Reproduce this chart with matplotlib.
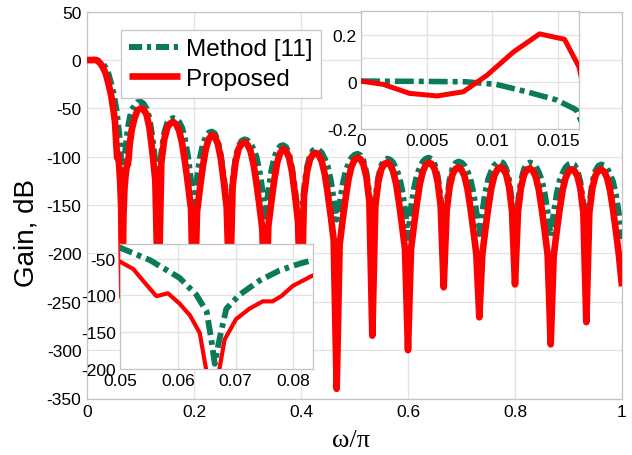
import matplotlib
matplotlib.use('Agg')
import matplotlib.pyplot as plt
from matplotlib.ticker import FixedLocator

plt.rcParams['font.family'] = ['Liberation Sans', 'DejaVu Sans']
plt.rcParams['axes.unicode_minus'] = False

# ---------------- data ----------------
# low-frequency part (passband + transition), sampled as in the insets
freq_lo_red = [0, 0.0017, 0.0037, 0.0058, 0.0078, 0.0096, 0.0116, 0.0136, 0.0155, 0.0166,
               0.02, 0.025, 0.03, 0.035, 0.04, 0.045, 0.05,
               0.0523, 0.054, 0.0563, 0.0583, 0.0603, 0.0621, 0.0638, 0.065, 0.0662,
               0.0681, 0.0701, 0.0724, 0.0747, 0.0764, 0.0779, 0.0799, 0.0833]
gain_lo_red = [0.003, -0.011, -0.049, -0.06, -0.042, 0.028, 0.126, 0.203, 0.18, 0.063,
               -0.8, -3.5, -8, -14, -24, -36, -54,
               -64, -80, -101, -97, -111, -127, -151, -205, -245,
               -160, -132, -118, -108, -108, -101, -87, -73]

freq_lo_green = [0, 0.004, 0.008, 0.0103, 0.0126, 0.0149, 0.0164,
                 0.02, 0.025, 0.03, 0.035, 0.04, 0.045, 0.05,
                 0.0552, 0.0603, 0.0632, 0.065, 0.0658, 0.0664, 0.0672, 0.0684, 0.0707,
                 0.0741, 0.0776, 0.081, 0.0833]
gain_lo_green = [0.003, 0.002, 0, -0.011, -0.042, -0.077, -0.119,
                 -0.6, -1.5, -4, -8, -14, -24, -35,
                 -52, -76, -99, -122, -160, -193, -160, -118, -99,
                 -80, -66, -57, -52]

# stopband part (one row per lobe: null, then the lobe)
freq_hi = [
    0.08889, 0.09444, 0.10000, 0.10556, 0.11111, 0.11667, 0.12222, 0.12778,
    0.13333, 0.13889, 0.14444, 0.15000, 0.15556, 0.16111, 0.16667, 0.17222, 0.17778, 0.18333, 0.18889, 0.19444,
    0.20000, 0.20556, 0.21111, 0.21667, 0.22222, 0.22778, 0.23333, 0.23889, 0.24444, 0.25000, 0.25556, 0.26111,
    0.26667, 0.27222, 0.27778, 0.28333, 0.28889, 0.29444, 0.30000, 0.30556, 0.31111, 0.31667, 0.32222, 0.32778,
    0.33333, 0.33889, 0.34444, 0.35000, 0.35556, 0.36111, 0.36667, 0.37222, 0.37778, 0.38333, 0.38889, 0.39444,
    0.40000, 0.40556, 0.41111, 0.41667, 0.42222, 0.42778, 0.43333, 0.43889, 0.44444, 0.45000, 0.45556, 0.46111,
    0.46667, 0.47222, 0.47778, 0.48333, 0.48889, 0.49444, 0.50000, 0.50556, 0.51111, 0.51667, 0.52222, 0.52778,
    0.53333, 0.53889, 0.54444, 0.55000, 0.55556, 0.56111, 0.56667, 0.57222, 0.57778, 0.58333, 0.58889, 0.59444,
    0.60000, 0.60556, 0.61111, 0.61667, 0.62222, 0.62778, 0.63333, 0.63889, 0.64444, 0.65000, 0.65556, 0.66111,
    0.66667, 0.67222, 0.67778, 0.68333, 0.68889, 0.69444, 0.70000, 0.70556, 0.71111, 0.71667, 0.72222, 0.72778,
    0.73333, 0.73889, 0.74444, 0.75000, 0.75556, 0.76111, 0.76667, 0.77222, 0.77778, 0.78333, 0.78889, 0.79444,
    0.80000, 0.80556, 0.81111, 0.81667, 0.82222, 0.82778, 0.83333, 0.83889, 0.84444, 0.85000, 0.85556, 0.86111,
    0.86667, 0.87222, 0.87778, 0.88333, 0.88889, 0.89444, 0.90000, 0.90556, 0.91111, 0.91667, 0.92222, 0.92778,
    0.93333, 0.93889, 0.94444, 0.95000, 0.95556, 0.96111, 0.96667, 0.97222, 0.97778, 0.98333, 0.98889, 0.99444,
    1.00000]

gain_hi_red = [
    -60, -52, -50, -51, -56, -70, -95, -125,
    -260, -106, -82, -70, -65.5, -64, -66.5, -73, -86, -106, -129, -154,
    -280, -157.5, -132.5, -109.5, -91.5, -81.5, -77.5, -79.5, -86.5, -101.5, -125.5, -152.5,
    -250, -130, -105, -92, -86.5, -85, -87.5, -94, -107, -127, -150, -175,
    -290, -172, -147, -124, -106, -96, -92, -94, -101, -116, -140, -167,
    -270, -141, -116, -103, -97.5, -96, -98.5, -105, -118, -138, -161, -186,
    -340, -191, -166, -143, -123, -110, -103.5, -101, -102.5, -108, -121, -146,
    -285, -151, -126, -113, -107.5, -106, -108.5, -115, -128, -148, -171, -196,
    -300, -196, -171, -148, -128, -115, -108.5, -106, -107.5, -113, -126, -151,
    -235, -156, -131, -118, -112.5, -111, -113.5, -120, -133, -153, -176, -201,
    -266, -201, -176, -153, -133, -120, -113.5, -111, -112.5, -118, -131, -156,
    -232, -157, -132, -119, -113.5, -112, -114.5, -121, -134, -154, -177, -202,
    -294, -203, -178, -155, -135, -122, -115.5, -113, -114.5, -120, -133, -158,
    -271, -158, -133, -120, -114.5, -113, -115.5, -122, -135, -155, -178, -203,
    -234]

gain_hi_green = [
    -47, -43.5, -43, -45, -50, -60, -80, -105,
    -140, -96, -75, -65, -61, -60, -61, -64, -70, -82, -100, -125,
    -151, -122, -101, -87, -79, -75, -74, -76, -83, -98, -120, -146,
    -160, -124, -101, -89, -83.5, -82, -83, -86, -92, -100, -114, -134,
    -162, -136, -115, -101, -93, -89, -88, -90, -97, -112, -134, -160,
    -165, -134, -111, -99, -93.5, -92, -93, -96, -102, -110, -124, -144,
    -165, -149, -129, -115, -107, -101, -98, -97, -98.5, -104, -116, -139,
    -175, -144, -121, -109, -103.5, -102, -103, -106, -112, -120, -134, -154,
    -184, -153, -133, -119, -111, -105, -102, -101, -102.5, -108, -120, -143,
    -180, -147, -124, -112, -106.5, -105, -106, -109, -115, -123, -137, -157,
    -180, -157, -137, -123, -115, -109, -106, -105, -106.5, -112, -124, -147,
    -182, -148, -125, -113, -107.5, -106, -107, -110, -116, -124, -138, -158,
    -182, -159, -139, -125, -117, -111, -108, -107, -108.5, -114, -126, -149,
    -185, -150, -127, -115, -109.5, -108, -109, -112, -118, -126, -140, -160,
    -185]

labels = ['Method [11]', 'Proposed']

main_xticks = [0, 0.2, 0.4, 0.6, 0.8, 1]
main_xticklabels = ['0', '0.2', '0.4', '0.6', '0.8', '1']
main_yticks = [-350, -300, -250, -200, -150, -100, -50, 0, 50]
main_yticklabels = ['-350', '-300', '-250', '-200', '-150', '-100', '-50', '0', '50']

in1_xticks = [0, 0.005, 0.01, 0.015]
in1_xticklabels = ['0', '0.005', '0.01', '0.015']
in1_yticks = [-0.2, 0, 0.2]
in1_yticklabels = ['-0.2', '0', '0.2']
in1_yminor = [-0.1, 0.1]

in2_xticks = [0.05, 0.06, 0.07, 0.08]
in2_xticklabels = ['0.05', '0.06', '0.07', '0.08']
in2_yticks = [-200, -150, -100, -50]
in2_yticklabels = ['-200', '-150', '-100', '-50']

# ---------------- drawing ----------------
GREEN = '#0a7a5a'
RED = '#ff0000'
GRID = '#e2e2e2'
SPINE = '#c4c4c4'
TICKFS = 12.5

freq_red = freq_lo_red + freq_hi
gain_red = gain_lo_red + gain_hi_red
freq_green = freq_lo_green + freq_hi
gain_green = gain_lo_green + gain_hi_green

W, H = 632, 456
fig = plt.figure(figsize=(W / 100, H / 100), dpi=100)


def px_axes(left, top, right, bottom):
    return fig.add_axes([left / W, 1 - bottom / H, (right - left) / W, (bottom - top) / H])


def style(a):
    for s in a.spines.values():
        s.set_color(SPINE)
        s.set_linewidth(0.9)
    a.grid(True, which='both', color=GRID, linewidth=0.9)
    a.set_axisbelow(True)
    a.tick_params(which='both', length=0, labelsize=TICKFS, pad=4, colors='black')
    a.set_facecolor('white')


ax = px_axes(87, 12.7, 622, 399.5)
style(ax)
ax.plot(freq_green, gain_green, color=GREEN, lw=4.3, dashes=(2.2, 0.8, 0.7, 0.8),
        dash_capstyle='butt', label=labels[0], zorder=3)
ax.plot(freq_red, gain_red, color=RED, lw=4.8, solid_joinstyle='round',
        solid_capstyle='butt', label=labels[1], zorder=4)
ax.set_xlim(0, 1)
ax.set_ylim(-350, 50)
ax.set_xticks(main_xticks)
ax.set_xticklabels(main_xticklabels)
ax.set_yticks(main_yticks)
ax.set_yticklabels(main_yticklabels)
ax.set_ylabel('Gain, dB', fontsize=20)
ax.yaxis.set_label_coords(-0.088, 0.43)
ax.set_xlabel('ω/π', fontsize=19, family=['Liberation Serif', 'DejaVu Serif'])
ax.xaxis.set_label_coords(0.493, -0.078)

leg = ax.legend(loc='upper left', bbox_to_anchor=((121 - 87) / 535, 1 - (31 - 12.7) / 386.8),
                borderaxespad=0, fontsize=17.5, handlelength=2.1, handletextpad=0.25,
                borderpad=0.34, labelspacing=0.3, fancybox=False, framealpha=1,
                edgecolor=SPINE)
leg.get_frame().set_linewidth(0.9)

# upper-right inset: passband detail
ax1 = px_axes(361, 12, 579, 130)
style(ax1)
ax1.plot(freq_green, gain_green, color=GREEN, lw=4.0, dashes=(3.4, 0.9, 0.9, 0.9),
         dash_capstyle='butt', zorder=3)
ax1.plot(freq_red, gain_red, color=RED, lw=3.6, solid_joinstyle='round', zorder=4)
ax1.set_xlim(0, 0.0166)
ax1.set_ylim(-0.2, 0.3)
ax1.set_xticks(in1_xticks)
ax1.set_xticklabels(in1_xticklabels)
ax1.set_yticks(in1_yticks)
ax1.set_yticklabels(in1_yticklabels)
ax1.yaxis.set_minor_locator(FixedLocator(in1_yminor))
ax1.tick_params(pad=3)

# lower-left inset: first null detail
ax2 = px_axes(120, 245, 313, 370)
style(ax2)
ax2.plot(freq_green, gain_green, color=GREEN, lw=4.2, dashes=(2.6, 0.9, 0.8, 0.9),
         dash_capstyle='butt', zorder=3)
ax2.plot(freq_red, gain_red, color=RED, lw=3.0, solid_joinstyle='round', zorder=4)
ax2.set_xlim(0.05, 0.0834)
ax2.set_ylim(-200, -30)
ax2.set_xticks(in2_xticks)
ax2.set_xticklabels(in2_xticklabels)
ax2.set_yticks(in2_yticks)
ax2.set_yticklabels(in2_yticklabels)
ax2.tick_params(pad=3)

fig.savefig('out.png', dpi=100, facecolor='white')
